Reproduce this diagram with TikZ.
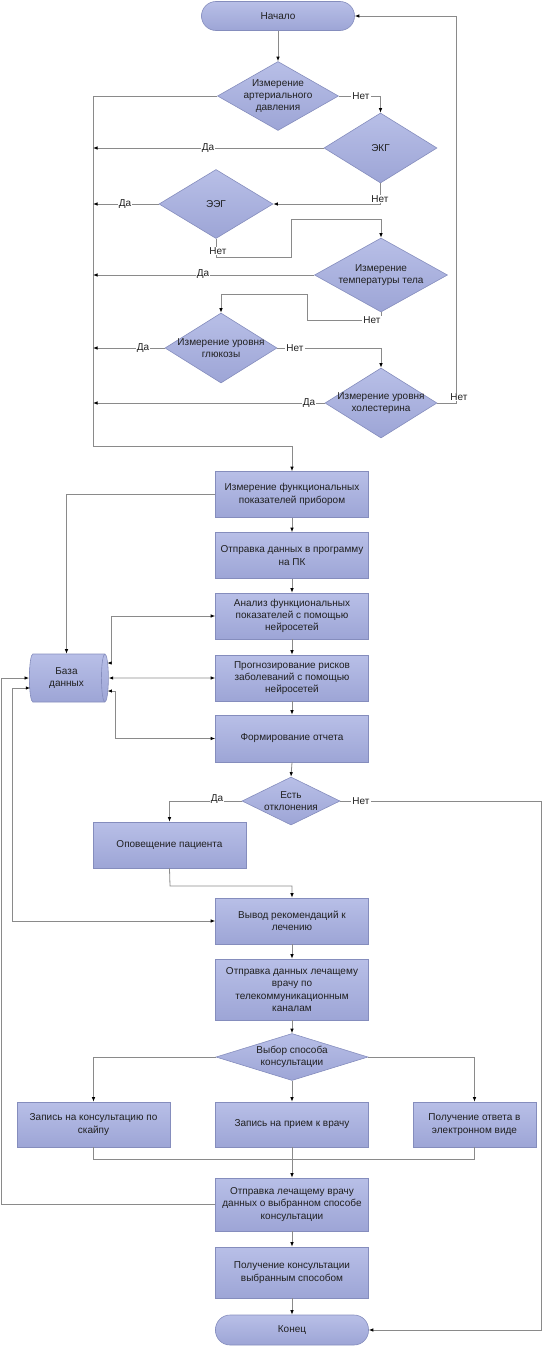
\documentclass[tikz,border=0pt]{standalone}
\usepackage{fontspec}
\setmainfont{Liberation Sans}
\usetikzlibrary{arrows.meta,shapes.geometric,calc}
\definecolor{boxtop}{HTML}{B8BFE7}
\definecolor{boxbot}{HTML}{9DA5D6}
\definecolor{boxline}{HTML}{858DBD}
\definecolor{wirec}{HTML}{8A8A8A}
\definecolor{txt}{HTML}{202020}
\begin{document}
\begin{tikzpicture}[x=1pt,y=-1pt,
 every node/.style={font=\fontsize{10}{12.3}\selectfont, text=txt},
 proc/.style={rectangle, draw=boxline, line width=0.6pt, top color=boxtop, bottom color=boxbot, minimum width=153pt, minimum height=46pt, inner sep=1pt, align=center},
 term/.style={proc, rounded corners=14.5pt, minimum height=29pt},
 dec/.style={diamond, draw=boxline, line width=0.6pt, top color=boxtop, bottom color=boxbot, inner sep=0pt},
 wire/.style={draw=wirec, line width=0.8pt},
 arr/.style={wire, -{Latex[length=4.5pt,width=3.5pt,color=black]}},
 barr/.style={wire, {Latex[length=4.5pt,width=3.5pt,color=black]}-{Latex[length=4.5pt,width=3.5pt,color=black]}},
 lbl/.style={fill=white, inner sep=1pt},
]
\useasboundingbox (0,0) rectangle (543,1346);

% ---------- nodes ----------
\node[term] (start) at (278,16) {Начало};
\node[dec, minimum width=121pt, minimum height=69pt, label={[align=center]center:Измерение\\артериального\\давления}] (d1) at (278,96) {};
\node[dec, minimum width=113pt, minimum height=70pt, label={center:ЭКГ}] (d2) at (380.5,148) {};
\node[dec, minimum width=114pt, minimum height=69pt, label={center:ЭЭГ}] (d3) at (216,204) {};
\node[dec, minimum width=133pt, minimum height=74pt, label={[align=center]center:Измерение\\температуры тела}] (d4) at (381,275) {};
\node[dec, minimum width=112pt, minimum height=70pt, label={[align=center]center:Измерение уровня\\глюкозы}] (d5) at (221,348) {};
\node[dec, minimum width=112pt, minimum height=70pt, label={[align=center]center:Измерение уровня\\холестерина}] (d6) at (381,403) {};

\node[proc] (b1) at (292,494.5) {Измерение функциональных\\показателей прибором};
\node[proc] (b2) at (292,555.5) {Отправка данных в программу\\на ПК};
\node[proc] (b3) at (292,616) {Анализ функциональных\\показателей с помощью\\нейросетей};
\node[proc] (b4) at (292,678) {Прогнозирование рисков\\заболеваний с помощью\\нейросетей};
\node[proc, minimum height=47pt] (b5) at (292,738.5) {Формирование отчета};
\node[cylinder, draw=boxline, line width=0.6pt, top color=boxtop, bottom color=boxbot, shape border rotate=0, aspect=0.3, minimum width=48pt, minimum height=79pt, inner sep=1pt, align=center] (db) at (66.5,678) {База\\данных};

\node[dec, minimum width=98pt, minimum height=48pt, label={[align=center]center:Есть\\отклонения}] (d7) at (291,801) {};
\node[proc] (alert) at (169.5,845) {Оповещение пациента};
\node[proc] (b6) at (292,921) {Вывод рекомендаций к\\лечению};
\node[proc, minimum height=61pt] (b7) at (292,989.5) {Отправка данных лечащему\\врачу по\\телекоммуникационным\\каналам};
\node[dec, minimum width=152pt, minimum height=47pt, label={[align=center]center:Выбор способа\\консультации}] (d8) at (292,1057) {};
\node[proc, minimum height=45pt] (c1) at (93.5,1124.5) {Запись на консультацию по\\скайпу};
\node[proc, minimum height=45pt] (c2) at (292,1124.5) {Запись на прием к врачу};
\node[proc, minimum height=45pt, minimum width=123pt] (c3) at (474.5,1124.5) {Получение ответа в\\электронном виде};
\node[proc, minimum height=53pt] (b8) at (292,1204.5) {Отправка лечащему врачу\\данных о выбранном способе\\консультации};
\node[proc, minimum height=51pt] (b9) at (292,1272.5) {Получение консультации\\выбранным способом};
\node[term, minimum height=30pt] (end) at (292,1330) {Конец};

\coordinate (colx) at (93,446);
\coordinate (merge) at (292,1159);

% ---------- upper decision chain ----------
\draw[arr] (start.south) -- (d1.north);
\draw[arr] (d1.west) -| (colx) -| (b1.north);
\draw[arr] (d1.east) -| (d2.north);
\draw[arr] (d2.west) -- (d2.west -| colx);
\draw[arr] (d2.south) |- (d3.east);
\draw[arr] (d3.west) -- (d3.west -| colx);
\draw[arr] (d3.south) -- (216,257) -- (291,257) -- (291,219) -| (d4.north);
\draw[arr] (d4.west) -- (d4.west -| colx);
\draw[arr] (d4.south) -- (381,320) -- (307,320) -- (307,294) -| (d5.north);
\draw[arr] (d5.west) -- (d5.west -| colx);
\draw[arr] (d5.east) -| (d6.north);
\draw[arr] (d6.west) -- (d6.west -| colx);
\draw[arr] (d6.east) -- (456,403) |- (start.east);

% ---------- main column ----------
\draw[arr] (b1.south) -- (b2.north);
\draw[arr] (b2.south) -- (b3.north);
\draw[arr] (b3.south) -- (b4.north);
\draw[arr] (b4.south) -- (b5.north);
\draw[arr] (b5.south) -- (d7.north);

% ---------- database links ----------
\draw[arr] (b1.west) -| (db.north);
\draw[barr] ([yshift=15pt,xshift=-1.5pt]db.east) -| (111,616) -- (b3.west);
\draw[barr] (db.east) -- (b4.west);
\draw[barr] ([yshift=-13pt,xshift=-1.2pt]db.east) -| (115,738.5) -- (b5.west);
\draw[barr] (b6.west) -| (12,688) -- ([yshift=-10pt,xshift=1.2pt]db.west);
\draw[arr] (b8.west) -| (1,678) -- (db.west);

% ---------- lower part ----------
\draw[arr] (d7.west) -| (alert.north);
\draw[arr] (d7.east) -- (541.5,801) |- (end.east);
\draw[arr] (alert.south) -- (170,886) -| (b6.north);
\draw[arr] (b6.south) -- (b7.north);
\draw[arr] (b7.south) -- (d8.north);
\draw[arr] (d8.west) -| (c1.north);
\draw[arr] (d8.south) -- (c2.north);
\draw[arr] (d8.east) -| (c3.north);
\draw[wire] (c1.south) |- (merge);
\draw[wire] (c3.south) |- (merge);
\draw[arr] (c2.south) -- (b8.north);
\draw[arr] (b8.south) -- (b9.north);
\draw[arr] (b9.south) -- (end.north);

% ---------- branch labels ----------
\node[lbl] (n1) at (361,96) {Нет};
\node[lbl] (y2) at (208,148) {Да};
\node[lbl] (n2) at (380,199) {Нет};
\node[lbl] (y3) at (125,204) {Да};
\node[lbl] (n3) at (218,251) {Нет};
\node[lbl] (y4) at (203,274) {Да};
\node[lbl] (n4) at (372,320) {Нет};
\node[lbl] (y5) at (143,348) {Да};
\node[lbl] (n5) at (295,348) {Нет};
\node[lbl] (y6) at (309,403) {Да};
\node[lbl] (n6) at (459,397) {Нет};
\node[lbl] (y7) at (217,799) {Да};
\node[lbl] (n7) at (361,801) {Нет};
\end{tikzpicture}
\end{document}
